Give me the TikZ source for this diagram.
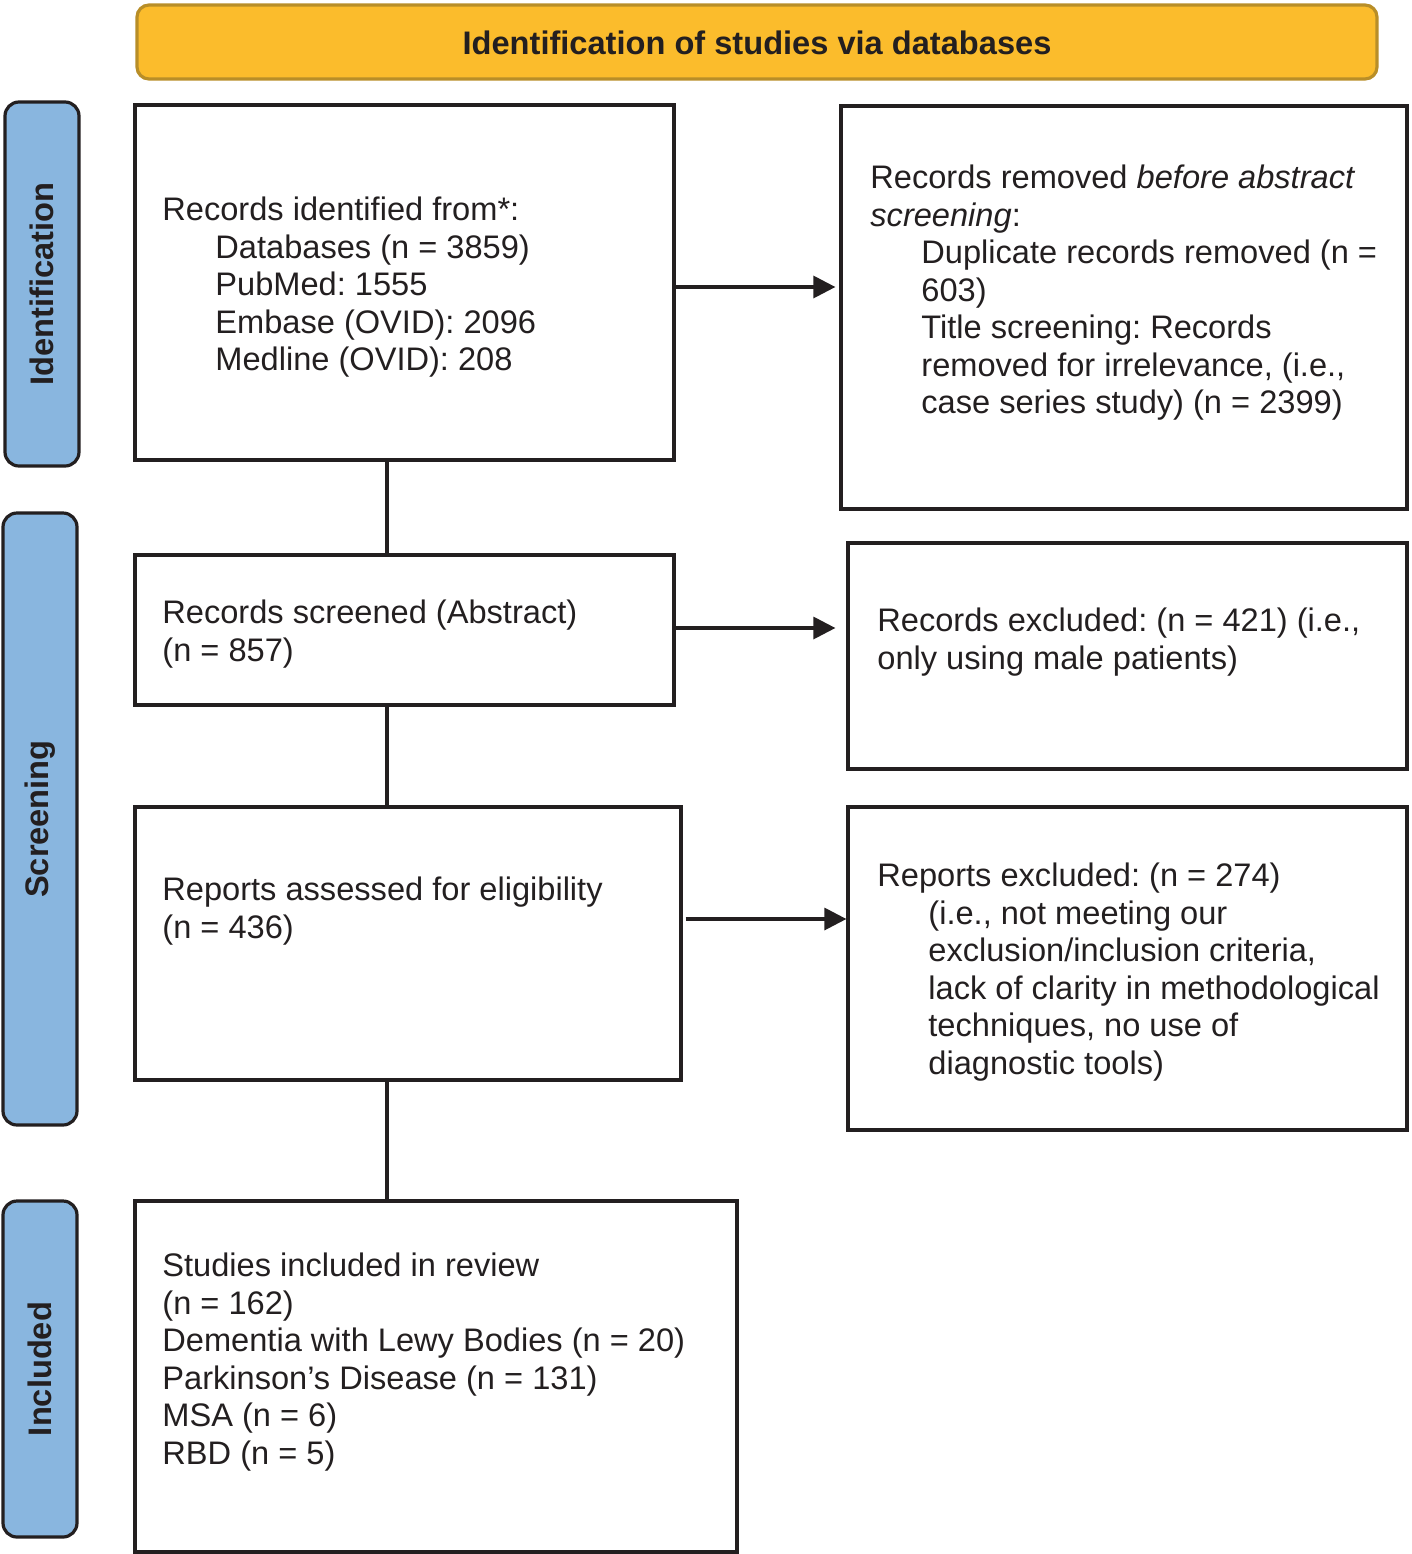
\documentclass[tikz,border=0pt]{standalone}
\usepackage{fontspec}
\setmainfont{Liberation Sans}
\usetikzlibrary{fit,arrows.meta}
\definecolor{ink}{HTML}{231F20}
\definecolor{gold}{HTML}{FBBC2C}
\definecolor{goldline}{HTML}{B88E28}
\definecolor{sideblue}{HTML}{89B6DF}
\frenchspacing
\begin{document}
\begin{tikzpicture}[x=0.5pt,y=-0.5pt,
  box/.style={draw=ink, line width=1.6pt, inner sep=0pt},
  banner/.style={draw=goldline, fill=gold, line width=1.6pt, rounded corners=6pt, inner sep=0pt},
  side/.style={draw=ink, fill=sideblue, line width=1.6pt, rounded corners=7pt, inner sep=0pt},
  txt/.style={text=ink, align=left, inner sep=0pt, font=\fontsize{16.3}{18.75}\selectfont\frenchspacing},
  headtxt/.style={text=ink, inner sep=0pt, font=\fontsize{16.3}{18.75}\selectfont\bfseries},
  conn/.style={draw=ink, line width=1.6pt},
  arr/.style={conn, -{Triangle[length=11pt,width=11pt]}}
]
\useasboundingbox (0,0) rectangle (1412,1554);

% banner and side labels
\node[banner, fit={(137,5) (1377,79)}] (ban) {};
\node[headtxt] at (757,43) {Identification of studies via databases};
\node[side, fit={(5,102) (79,466)}] (s1) {};
\node[headtxt, rotate=90] at (s1.center) {Identification};
\node[side, fit={(3,513) (77,1125)}] (s2) {};
\node[headtxt, rotate=90] at (s2.center) {Screening};
\node[side, fit={(3,1201) (77,1537)}] (s3) {};
\node[headtxt, rotate=90] at (s3.center) {Included};

% boxes
\node[box, fit={(135,105) (674,460)}] (b1) {};
\node[box, fit={(841,106) (1407,509)}] (b2) {};
\node[box, fit={(135,555) (674,705)}] (b3) {};
\node[box, fit={(848,543) (1407,769)}] (b4) {};
\node[box, fit={(135,807) (681,1080)}] (b5) {};
\node[box, fit={(848,807) (1407,1130)}] (b6) {};
\node[box, fit={(135,1201) (737,1552)}] (b7) {};

% texts (anchored at the baseline of their last line)
\node[txt, anchor=base west] (t1) at (162,370.5) {Records identified from*:\\
\hspace*{26.5pt}Databases (n = 3859)\\
\hspace*{26.5pt}PubMed: 1555\\
\hspace*{26.5pt}Embase (OVID): 2096\\
\hspace*{26.5pt}Medline (OVID): 208};
\node[txt, anchor=base west] (t2) at (870,413.5) {Records removed \textit{before abstract}\\
\textit{screening}:\\
\hspace*{25.5pt}Duplicate records removed (n =\\
\hspace*{25.5pt}603)\\
\hspace*{25.5pt}Title screening: Records\\
\hspace*{25.5pt}removed for irrelevance, (i.e.,\\
\hspace*{25.5pt}case series study) (n = 2399)};
\node[txt, anchor=base west] (t3) at (162,661) {Records screened (Abstract)\\(n = 857)};
\node[txt, anchor=base west] (t4) at (877,669) {Records excluded: (n = 421) (i.e.,\\only using male patients)};
\node[txt, anchor=base west] (t5) at (162,938) {Reports assessed for eligibility\\(n = 436)};
\node[txt, anchor=base west] (t6) at (877,1074) {Reports excluded: (n = 274)\\
\hspace*{25.5pt}(i.e., not meeting our\\
\hspace*{25.5pt}exclusion/inclusion criteria,\\
\hspace*{25.5pt}lack of clarity in methodological\\
\hspace*{25.5pt}techniques, no use of\\
\hspace*{25.5pt}diagnostic tools)};
\node[txt, anchor=base west] (t7) at (162,1464) {Studies included in review\\
(n = 162)\\
Dementia with Lewy Bodies (n = 20)\\
Parkinson’s Disease (n = 131)\\
MSA (n = 6)\\
RBD (n = 5)};

% vertical connectors
\draw[conn] (b1.south -| 387,0) -- (b3.north -| 387,0);
\draw[conn] (b3.south -| 387,0) -- (b5.north -| 387,0);
\draw[conn] (b5.south -| 387,0) -- (b7.north -| 387,0);

% horizontal arrows
\draw[arr] (b1.east |- 0,287) -- ([xshift=-2pt]b2.west |- 0,287);
\draw[arr] (b3.east |- 0,628) -- ([xshift=-5.5pt]b4.west |- 0,628);
\draw[arr] ([xshift=1.5pt]b5.east |- 0,919) -- (b6.west |- 0,919);
\end{tikzpicture}
\end{document}
